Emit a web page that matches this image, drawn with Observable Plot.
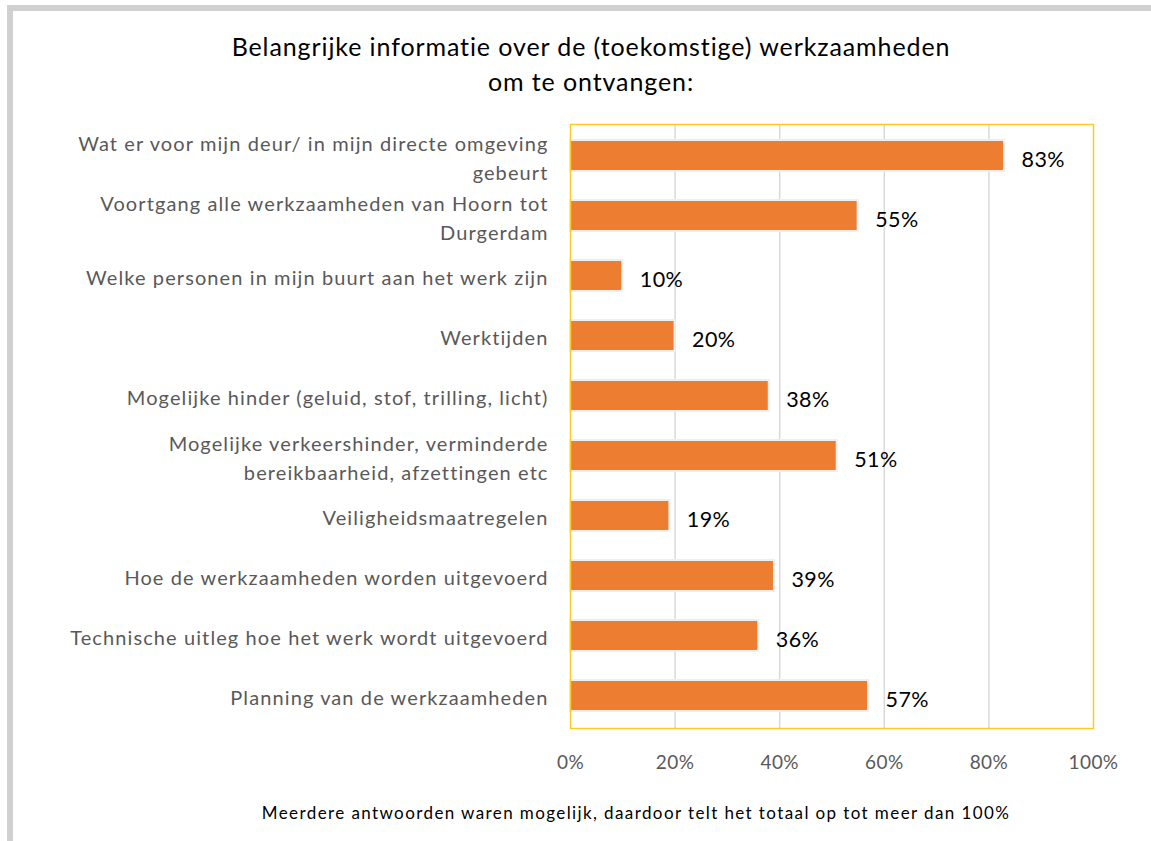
<!DOCTYPE html>
<html>
<head>
<meta charset="utf-8">
<script src="https://cdn.jsdelivr.net/npm/d3@7"></script>
<script src="https://cdn.jsdelivr.net/npm/@observablehq/plot@0.6"></script>
<style>
  html, body { margin: 0; padding: 0; background: #fff; }
  body { width: 1151px; height: 841px; position: relative; overflow: hidden; font-family: Lato, "Noto Sans", sans-serif; }
  #frame { position: absolute; left: 7px; top: 5px; width: 1160px; height: 850px; border-top: 6px solid #d0d0d0; border-left: 6px solid #d0d0d0; box-sizing: border-box; }
  #chart { position: absolute; left: 0; top: 0; }
  #title { position: absolute; left: 191px; width: 800px; top: 29px; text-align: center; font-size: 25px; line-height: 35px; color: #000; letter-spacing: 0.9px; }
  #note { position: absolute; left: 236px; width: 800px; top: 802px; text-align: center; font-size: 17px; color: #000; letter-spacing: 1.4px; }
  #chart g[aria-label="y-axis tick label"] text { letter-spacing: 1.1px; }
  #chart g[aria-label="x-axis tick label"] text { letter-spacing: 0.4px; }
  #chart g[aria-label="text"] text { letter-spacing: 0.4px; }
</style>
</head>
<body>
<div id="frame"></div>
<div id="chart"></div>
<div id="title">Belangrijke informatie over de (toekomstige) werkzaamheden<br>om te ontvangen:</div>
<div id="note">Meerdere antwoorden waren mogelijk, daardoor telt het totaal op tot meer dan 100%</div>
<script>
const categories = [
  "Wat er voor mijn deur/ in mijn directe omgeving gebeurt",
  "Voortgang alle werkzaamheden van Hoorn tot Durgerdam",
  "Welke personen in mijn buurt aan het werk zijn",
  "Werktijden",
  "Mogelijke hinder (geluid, stof, trilling, licht)",
  "Mogelijke verkeershinder, verminderde bereikbaarheid, afzettingen etc",
  "Veiligheidsmaatregelen",
  "Hoe de werkzaamheden worden uitgevoerd",
  "Technische uitleg hoe het werk wordt uitgevoerd",
  "Planning van de werkzaamheden"
];
const displayLabels = [
  "Wat er voor mijn deur/ in mijn directe omgeving\ngebeurt",
  "Voortgang alle werkzaamheden van Hoorn tot\nDurgerdam",
  "Welke personen in mijn buurt aan het werk zijn",
  "Werktijden",
  "Mogelijke hinder (geluid, stof, trilling, licht)",
  "Mogelijke verkeershinder, verminderde\nbereikbaarheid, afzettingen etc",
  "Veiligheidsmaatregelen",
  "Hoe de werkzaamheden worden uitgevoerd",
  "Technische uitleg hoe het werk wordt uitgevoerd",
  "Planning van de werkzaamheden"
];
const values = [0.83, 0.55, 0.10, 0.20, 0.38, 0.51, 0.19, 0.39, 0.36, 0.57];
const xTicks = [0, 0.2, 0.4, 0.6, 0.8, 1.0];

const data = categories.map((c, i) => ({category: c, value: values[i]}));
const labelOf = new Map(categories.map((c, i) => [c, displayLabels[i]]));

const chart = Plot.plot({
  width: 1151,
  height: 841,
  marginTop: 124,
  marginBottom: 113,
  marginLeft: 570,
  marginRight: 58,
  style: {fontFamily: "Lato, 'Noto Sans', sans-serif", fontSize: "19px", color: "#595959", background: "transparent"},
  x: {domain: [0, 1]},
  y: {domain: categories, paddingInner: 0.48, paddingOuter: 0.24},
  marks: [
    Plot.ruleX(xTicks.slice(1, -1), {stroke: "#d9d9d9", strokeWidth: 1.5, strokeOpacity: 1}),
    Plot.axisX({ticks: xTicks, tickFormat: d => Math.round(d * 100) + "%", tickSize: 0, tickPadding: 27, fill: "#595959", fontSize: 19, label: null}),
    Plot.axisY({tickFormat: d => labelOf.get(d), tickSize: 0, tickPadding: 22, fill: "#595959", fontSize: 20, lineHeight: 1.45, label: null}),
    Plot.barX(data, {x: "value", y: "category", fill: "#ED7D31", stroke: "#eeeeee", strokeWidth: 2}),
    Plot.text(data, {x: "value", y: "category", text: d => Math.round(d.value * 100) + "%", textAnchor: "start", dx: 17, dy: 4, fill: "#000", fontSize: 21.5}),
    Plot.frame({stroke: "#FFC926", strokeWidth: 1.5})
  ]
});
document.getElementById("chart").appendChild(chart);
</script>
</body>
</html>
